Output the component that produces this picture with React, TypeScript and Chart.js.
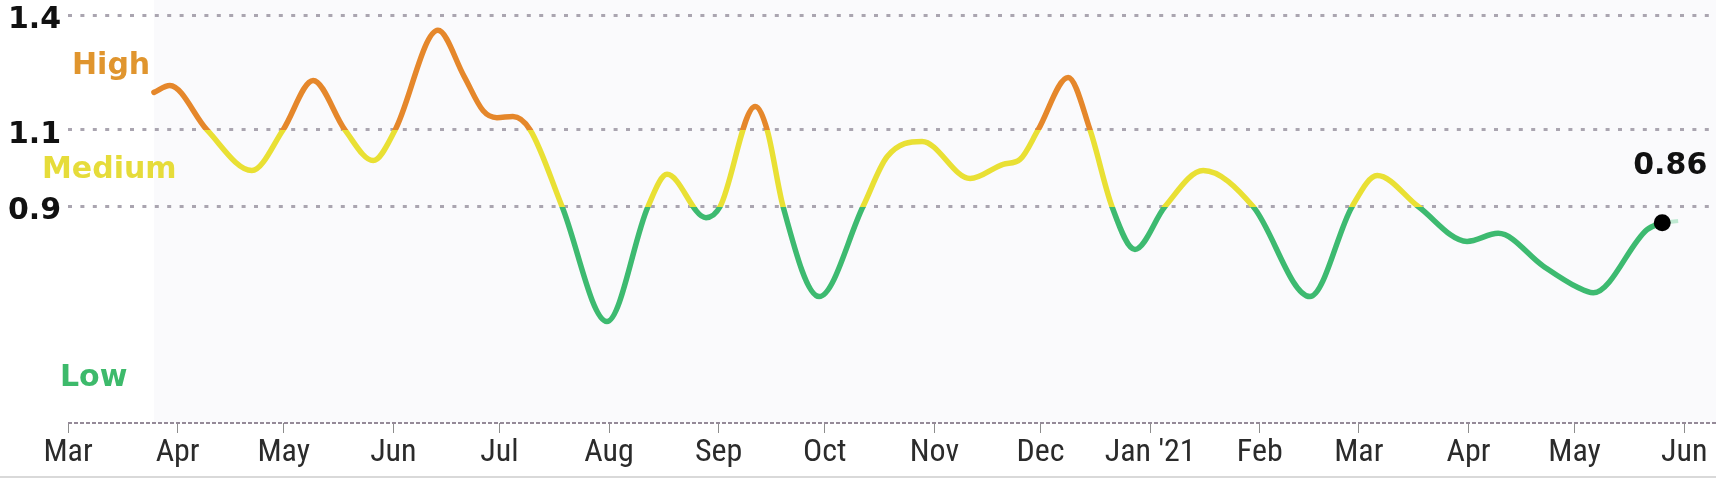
import React, { useEffect, useRef } from "react";
import { Chart, registerables } from "chart.js";

Chart.register(...registerables);

// ---- data ----
// x: days since 1 Mar 2020; month ticks at first of each month
const monthTickDays = [0, 31, 61, 92, 122, 153, 184, 214, 245, 275, 306, 337, 365, 396, 426, 457];
const monthTickLabels = ["Mar", "Apr", "May", "Jun", "Jul", "Aug", "Sep", "Oct", "Nov", "Dec", "Jan '21", "Feb", "Mar", "Apr", "May", "Jun"];
const yTickValues = [0.9, 1.1, 1.4];
const levelThresholds = [0.9, 1.1];

const rDays = [
  24.3, 28.8, 39.3, 52.0, 60.8, 69.3, 78.3, 86.3, 92.5, 104.6, 112.0, 117.4, 121.3, 125.8, 130.7, 139.7,
  152.4, 164.0, 169.4, 180.4, 184.4, 194.3, 197.7, 202.2, 212.4, 224.8, 231.6, 241.5, 255.1, 264.4,
  269.2, 274.3, 282.8, 289.0, 295.2, 301.7, 310.2, 321.0, 335.1, 351.2, 363.1, 370.2, 381.8, 395.6,
  404.4, 417.1, 426.7, 431.3, 446.5, 450.8,
];
const rValues = [
  1.198, 1.216, 1.1, 0.994, 1.1, 1.229, 1.1, 1.02, 1.1, 1.36, 1.24, 1.15, 1.132, 1.135, 1.1, 0.9,
  0.6, 0.9, 0.984, 0.871, 0.9, 1.161, 1.1, 0.9, 0.665, 0.9, 1.03, 1.07, 0.973, 1.01,
  1.023, 1.1, 1.237, 1.1, 0.9, 0.788, 0.9, 0.994, 0.9, 0.665, 0.9, 0.981, 0.9, 0.809,
  0.83, 0.745, 0.69, 0.675, 0.84, 0.858,
];
const tailDays = [450.8, 455.3];
const tailValues = [0.858, 0.862];
const latestLabel = "0.86";

const bandNames = ["High", "Medium", "Low"];
const bandAnchorValues = [1.266, 0.994, 0.453];

// ---- styles ----
const ORANGE = "#e5872b";
const YELLOW = "#e9e034";
const GREEN = "#3dba70";
const bandColors = ["#e0952e", "#e6dc3a", "#3dba6b"];
const bandLeftPx = [72, 42, 60];
const BOLD_FONT = "bold 30px 'DejaVu Sans', sans-serif";

// condensed font candidates for the month labels; the closest matching one is used
const tickFontCandidates = [
  { family: "'Liberation Sans Narrow'", size: 32, weight: "normal" },
  { family: "'Noto Sans'", size: 32, weight: "condensed" },
  { family: "'Open Sans'", size: 31, weight: "condensed" },
  { family: "Roboto", size: 32, weight: "condensed" },
  { family: "'DejaVu Sans Condensed'", size: 30, weight: "normal" },
  { family: "'Liberation Sans'", size: 29, weight: "normal" },
];

function pickTickFont() {
  const c = document.createElement("canvas").getContext("2d");
  if (!c) return tickFontCandidates[tickFontCandidates.length - 1];
  let best = tickFontCandidates[tickFontCandidates.length - 1];
  let bestScore = Infinity;
  for (const f of tickFontCandidates) {
    c.font = `${f.weight} ${f.size}px ${f.family}, sans-serif`;
    const wMar = c.measureText("Mar").width;
    const wJan = c.measureText("Jan '21").width;
    const score = Math.abs(wMar - 47) + Math.abs(wJan - 82);
    if (score < bestScore) {
      bestScore = score;
      best = f;
    }
  }
  return best;
}

function levelGradient(ctx: any) {
  const chart = ctx.chart;
  const { chartArea, scales } = chart;
  if (!chartArea || !scales.y) return GREEN;
  const top = chartArea.top;
  const bottom = chartArea.bottom;
  const h = bottom - top;
  const g = chart.ctx.createLinearGradient(0, top, 0, bottom);
  const pHigh = Math.min(Math.max((scales.y.getPixelForValue(levelThresholds[1]) - top) / h, 0), 1);
  const pLow = Math.min(Math.max((scales.y.getPixelForValue(levelThresholds[0]) - top) / h, 0), 1);
  g.addColorStop(0, ORANGE);
  g.addColorStop(pHigh, ORANGE);
  g.addColorStop(pHigh, YELLOW);
  g.addColorStop(pLow, YELLOW);
  g.addColorStop(pLow, GREEN);
  g.addColorStop(1, GREEN);
  return g;
}

const annotatePlugin = {
  id: "annotate",
  beforeDraw(chart: any) {
    const { ctx, chartArea, scales } = chart;
    const x0 = scales.x.getPixelForValue(rDays[0]);
    ctx.save();
    ctx.fillStyle = "#fafafc";
    ctx.fillRect(x0, 0, chartArea.right - x0, chartArea.bottom);
    ctx.restore();
  },
  afterDraw(chart: any) {
    const { ctx, scales } = chart;
    ctx.save();
    ctx.font = BOLD_FONT;
    ctx.textBaseline = "middle";
    ctx.textAlign = "left";
    bandNames.forEach((name, i) => {
      ctx.fillStyle = bandColors[i];
      ctx.fillText(name, bandLeftPx[i], scales.y.getPixelForValue(bandAnchorValues[i]));
    });
    const last = rDays.length - 1;
    const lx = scales.x.getPixelForValue(rDays[last]);
    const ly = scales.y.getPixelForValue(rValues[last]);
    ctx.fillStyle = "#111";
    ctx.textAlign = "center";
    ctx.fillText(latestLabel, lx + 8, ly - 56);
    ctx.restore();
  },
};

export default function App() {
  const canvasRef = useRef<HTMLCanvasElement | null>(null);

  useEffect(() => {
    if (!canvasRef.current) return;
    const yMin = 0.335;
    const lastIdx = rDays.length - 1;
    const tf = pickTickFont();
    const chart = new Chart(canvasRef.current, {
      type: "line",
      data: {
        datasets: [
          {
            data: rDays.map((d, i) => ({ x: d, y: rValues[i] })),
            borderColor: levelGradient,
            borderWidth: 5.5,
            cubicInterpolationMode: "monotone",
            borderCapStyle: "round",
            borderJoinStyle: "round",
            pointRadius: (c: any) => (c.dataIndex === lastIdx ? 8.5 : 0),
            pointBackgroundColor: "#000",
            pointBorderWidth: 0,
            fill: false,
            order: 0,
          },
          {
            data: tailDays.map((d, i) => ({ x: d, y: tailValues[i] })),
            borderColor: "#bfe9d2",
            borderWidth: 4,
            pointRadius: 0,
            fill: false,
            order: 1,
          },
        ],
      },
      options: {
        animation: false,
        responsive: false,
        events: [],
        layout: { autoPadding: false, padding: { left: 8, right: 0, top: 0, bottom: 0 } },
        plugins: { legend: { display: false }, tooltip: { enabled: false } },
        scales: {
          x: {
            type: "linear",
            min: 0,
            max: 466,
            afterBuildTicks: (s: any) => {
              s.ticks = monthTickDays.map((v) => ({ value: v }));
            },
            afterFit: (s: any) => {
              s.height = 53;
            },
            ticks: {
              autoSkip: false,
              maxRotation: 0,
              minRotation: 0,
              padding: 1,
              color: "#2b2b2b",
              font: { family: `${tf.family}, sans-serif`, size: tf.size, weight: tf.weight },
              callback: (_v: any, i: number) => monthTickLabels[i],
            },
            grid: {
              drawOnChartArea: false,
              drawTicks: true,
              tickLength: 10,
              tickColor: "#8c8c8c",
              tickWidth: 1,
            },
            border: { display: false },
          },
          y: {
            type: "linear",
            min: yMin,
            max: 1.4,
            afterBuildTicks: (s: any) => {
              s.ticks = [yMin, ...yTickValues].map((v) => ({ value: v }));
            },
            afterFit: (s: any) => {
              s.width = 60;
            },
            ticks: {
              crossAlign: "far",
              labelOffset: 5,
              padding: 0,
              color: "#111",
              font: { family: "'DejaVu Sans', sans-serif", weight: "bold", size: 30, lineHeight: 1.0 },
              callback: (v: any) => (yTickValues.includes(Number(v)) ? Number(v).toFixed(1) : ""),
            },
            grid: {
              drawTicks: false,
              color: (c: any) => (c.tick && c.tick.value === yMin ? "#958a98" : "#aaa5b0"),
              lineWidth: (c: any) => (c.tick && c.tick.value === yMin ? 2 : 3),
            },
            border: {
              display: false,
              dash: (c: any) => (c.tick && c.tick.value === yMin ? [4, 2] : [4, 8.4]),
            },
          },
        },
      } as any,
      plugins: [annotatePlugin],
    });
    return () => chart.destroy();
  }, []);

  return (
    <div
      style={{
        position: "absolute",
        left: 0,
        top: 0,
        width: 1716,
        height: 476,
        borderBottom: "2px solid #d9d9d9",
        background: "#ffffff",
      }}
    >
      <canvas ref={canvasRef} width={1716} height={476} style={{ display: "block", width: 1716, height: 476 }} />
    </div>
  );
}
